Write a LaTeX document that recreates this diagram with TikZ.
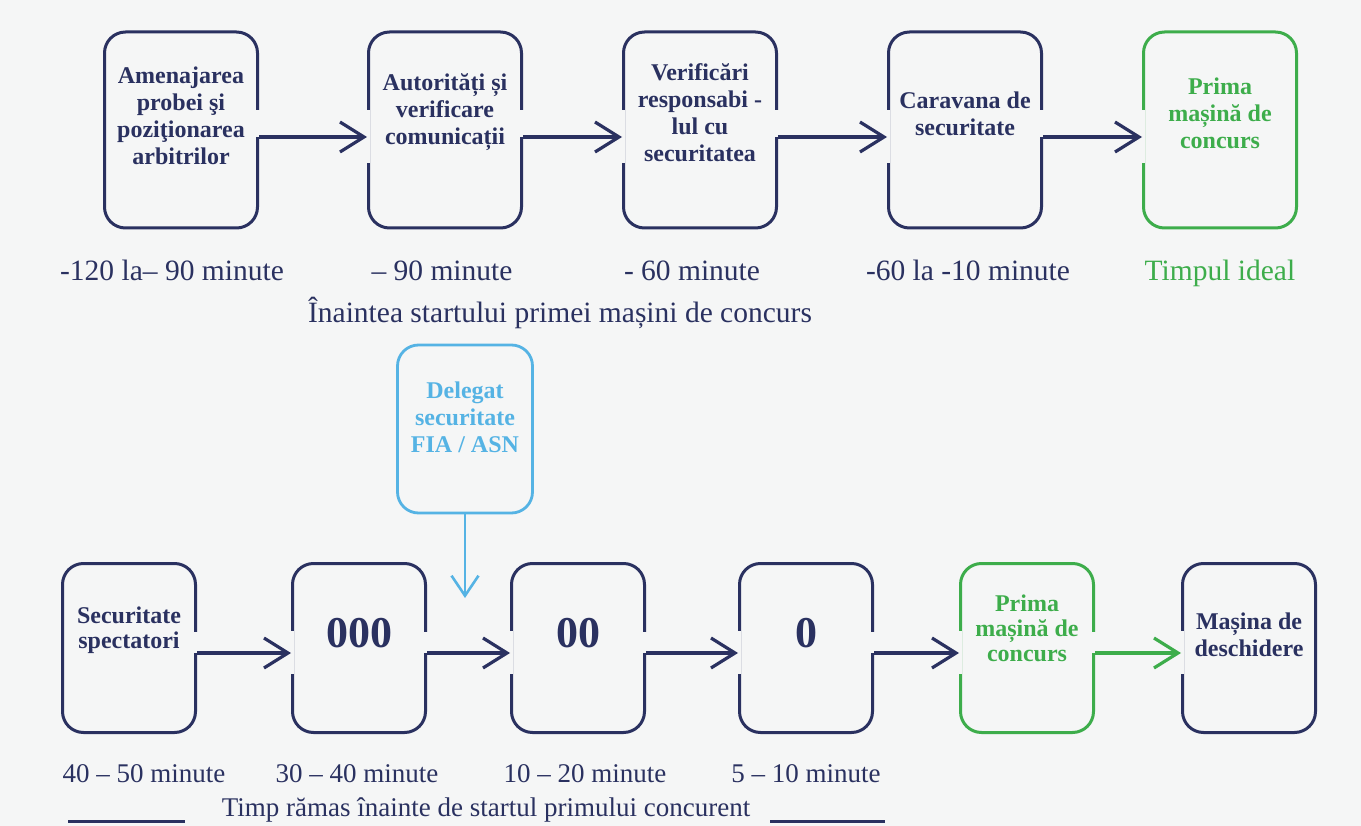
\documentclass[tikz,border=0pt]{standalone}
\usepackage{fontspec}
\setmainfont{Liberation Serif}
\usepackage{tikz}
\usetikzlibrary{arrows.meta}
\definecolor{navy}{HTML}{2A3160}
\definecolor{okgreen}{HTML}{3DAD4B}
\definecolor{skyblue}{HTML}{55B3E4}
\definecolor{paper}{HTML}{F5F6F6}

\begin{document}
\begin{tikzpicture}[x=1pt,y=-1pt]
      \newcommand{\cutin}[3]{\draw[cut] ([yshift=#2]#1.west) -- ([yshift=#3]#1.west);}
      \newcommand{\cutout}[3]{\draw[cut] ([yshift=#2]#1.east) -- ([yshift=#3]#1.east);}
      \tikzstyle{box}  = [draw=navy, line width=3pt, rounded corners=21pt, minimum width=153pt, minimum height=196pt]
      \tikzstyle{sbox} = [box, minimum width=133pt, minimum height=169pt]
      \tikzstyle{txt}  = [align=center, text=navy, font=\bfseries\fontsize{24}{27}\selectfont]
      \tikzstyle{when} = [anchor=base, text=navy, font=\fontsize{29.5}{33}\selectfont]
      \tikzstyle{cut}  = [draw=paper, line width=6pt]
      \tikzstyle{flow} = [draw=navy, line width=3.2pt, -{Straight Barb[length=24pt,width=30pt]}]
      \tikzstyle{leg}  = [draw=navy, line width=3pt]

      \useasboundingbox[fill=paper] (0,0) rectangle (1361,826);

      % before the start of the first car
      \node[box] (amen) at (181,130) {};
      \node[box] (auth) at (445,130) {};
      \node[box] (resp) at (700,130) {};
      \node[box] (carav) at (965,130) {};
      \node[box, draw=okgreen] (first) at (1220,130) {};

      \node[txt] (amentxt) at ([yshift=14pt]amen.center) {Amenajarea\\probei şi\\poziţionarea\\arbitrilor};
      \node[txt] (authtxt) at ([yshift=18pt]auth.center) {Autorități și\\verificare\\comunicații};
      \node[txt] (resptxt) at ([yshift=17pt]resp.center) {Verificări\\responsabi -\\lul cu\\securitatea};
      \node[txt] (caravtxt) at ([yshift=16pt]carav.center) {Caravana de\\securitate};
      \node[txt, text=okgreen] (firsttxt) at ([yshift=17pt]first.center) {Prima\\mașină de\\concurs};

      \cutout{amen}{20pt}{-7pt}  \cutin{auth}{20pt}{-33pt}
      \cutout{auth}{20pt}{-7pt}  \cutin{resp}{20pt}{-33pt}
      \cutout{resp}{20pt}{-7pt}  \cutin{carav}{20pt}{-33pt}
      \cutout{carav}{20pt}{-7pt} \cutin{first}{20pt}{-33pt}

      \draw[flow] ([yshift=-7pt]amen.east) -- ([yshift=-7pt]auth.west);
      \draw[flow] ([yshift=-7pt]auth.east) -- ([yshift=-7pt]resp.west);
      \draw[flow] ([yshift=-7pt]resp.east) -- ([yshift=-7pt]carav.west);
      \draw[flow] ([yshift=-7pt]carav.east) -- ([yshift=-7pt]first.west);

      \node[when] (w1) at (172,281) {-120 la– 90 minute};
      \node[when] (w2) at (442,281) {– 90 minute};
      \node[when] (w3) at (692,281) {- 60 minute};
      \node[when] (w4) at (968,281) {-60 la -10 minute};
      \node[when, text=okgreen] (w5) at (1220,281) {Timpul ideal};
      \node[when] (before) at (560,323) {Înaintea startului primei mașini de concurs};

      % time left before the first competitor
      \node[box, draw=skyblue, line width=2.8pt, minimum width=135pt, minimum height=168pt] (deleg) at (465,429) {};
      \node[txt, text=skyblue] (delegtxt) at ([yshift=12pt]deleg.center) {Delegat\\securitate\\FIA / ASN};
      \coordinate (dtip) at (465,598);

      \node[sbox] (spect) at (129,648) {};
      \node[sbox] (three) at (359,648) {};
      \node[sbox] (two) at (578,648) {};
      \node[sbox] (one) at (806,648) {};
      \node[sbox, draw=okgreen] (firstb) at (1027,648) {};
      \node[sbox] (opening) at (1249,648) {};

      \node[txt, font=\bfseries\fontsize{24}{25}\selectfont] (specttxt) at ([yshift=18pt]spect.center) {Securitate\\spectatori};
      \node[txt, font=\bfseries\fontsize{44}{48}\selectfont] (threetxt) at ([yshift=15pt]three.center) {000};
      \node[txt, font=\bfseries\fontsize{44}{48}\selectfont] (twotxt) at ([yshift=15pt]two.center) {00};
      \node[txt, font=\bfseries\fontsize{44}{48}\selectfont] (onetxt) at ([yshift=15pt]one.center) {0};
      \node[txt, text=okgreen, font=\bfseries\fontsize{24}{25}\selectfont] (firstbtxt) at ([yshift=20pt]firstb.center) {Prima\\mașină de\\concurs};
      \node[txt, font=\bfseries\fontsize{24}{27}\selectfont] (openingtxt) at ([yshift=13pt]opening.center) {Mașina de\\deschidere};

      \cutout{spect}{16pt}{-5pt}  \cutin{three}{17pt}{-26pt}
      \cutout{three}{16pt}{-5pt}  \cutin{two}{17pt}{-26pt}
      \cutout{two}{16pt}{-5pt}    \cutin{one}{17pt}{-26pt}
      \cutout{one}{16pt}{-5pt}    \cutin{firstb}{17pt}{-26pt}
      \cutout{firstb}{16pt}{-5pt} \cutin{opening}{17pt}{-26pt}

      \draw[flow] ([yshift=-5pt]spect.east) -- ([yshift=-5pt]three.west);
      \draw[flow] ([yshift=-5pt]three.east) -- ([yshift=-5pt]two.west);
      \draw[flow] ([yshift=-5pt]two.east) -- ([yshift=-5pt]one.west);
      \draw[flow] ([yshift=-5pt]one.east) -- ([yshift=-5pt]firstb.west);
      \draw[flow, draw=okgreen] ([yshift=-5pt]firstb.east) -- ([yshift=-5pt]opening.west);
      \draw[flow, draw=skyblue, line width=2.6pt, -{Straight Barb[length=20pt,width=27pt]}] (deleg.south) -- (dtip);

      \node[when, font=\fontsize{27}{30}\selectfont] (r1) at (144,782) {40 – 50 minute};
      \node[when, font=\fontsize{27}{30}\selectfont] (r2) at (357,782) {30 – 40 minute};
      \node[when, font=\fontsize{27}{30}\selectfont] (r3) at (585,782) {10 – 20 minute};
      \node[when, font=\fontsize{27}{30}\selectfont] (r4) at (806,782) {5 – 10 minute};
      \node[when, font=\fontsize{27}{30}\selectfont] (left) at (486,816) {Timp rămas înainte de startul primului concurent};

      \coordinate (la) at (68,821);  \coordinate (lb) at (185,821);
      \coordinate (ra) at (770,821); \coordinate (rb) at (885,821);
      \draw[leg] (la) -- (lb);
      \draw[leg] (ra) -- (rb);
    \end{tikzpicture}
\end{document}
